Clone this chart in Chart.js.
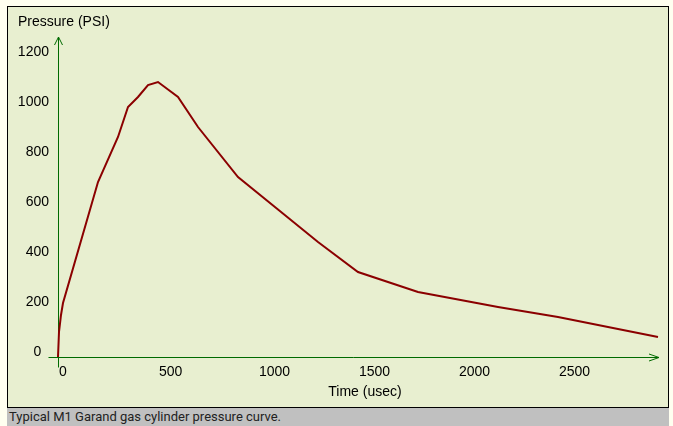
<!DOCTYPE html>
<html>
<head>
<meta charset="utf-8">
<script src="https://cdn.jsdelivr.net/npm/chart.js@4.4.0/dist/chart.umd.min.js"></script>
<style>
  html, body { margin: 0; padding: 0; background: #fffff0; width: 673px; height: 426px; overflow: hidden; }
  #frame { position: absolute; left: 7px; top: 6px; width: 660px; height: 400px; border: 1px solid #000; background: #e8efd0; }
  #caption { position: absolute; left: 7px; top: 408px; width: 660px; height: 18px; padding-left: 2px; background: #c0c0c0; font: 13px Roboto, sans-serif; color: #222; line-height: 18px; white-space: nowrap; }
  canvas { display: block; }
</style>
</head>
<body>
<div id="frame"><canvas id="chart" width="660" height="400"></canvas></div>
<div id="caption">Typical M1 Garand gas cylinder pressure curve.</div>
<script>
// time (usec) and gas pressure (PSI)
const timeUsec = [0, 5, 15, 25, 200, 300, 350, 400, 450, 500, 600, 700, 900, 1100, 1300, 1500, 1800, 2200, 2500, 3000];
const pressurePsi = [0, 100, 168, 216, 700, 880, 1000, 1040, 1088, 1100, 1040, 920, 720, 590, 460, 340, 260, 200, 160, 80];

const xTickValues = [0, 500, 1000, 1500, 2000, 2500];
const yTickValues = [0, 200, 400, 600, 800, 1000, 1200];

const xTitle = 'Time (usec)';
const yTitle = 'Pressure (PSI)';

const axisGreen = '#006a00';
const curveRed = '#8b0000';
const labelFont = { family: '"Liberation Sans", Arial, sans-serif', size: 14 };

// green axis lines with open arrow heads, plus the two axis titles
const arrowAxes = {
    id: 'arrowAxes',
    beforeDatasetsDraw(chart) {
        const ctx = chart.ctx;
        const xs = chart.scales.x;
        const ys = chart.scales.y;
        const x0 = Math.round(xs.getPixelForValue(0)) + 0.5;
        const y0 = Math.round(ys.getPixelForValue(0)) + 0.5;
        const yTop = ys.getPixelForValue(1200) - 20;
        const xEnd = xs.getPixelForValue(3000) + 1;
        ctx.save();
        ctx.strokeStyle = axisGreen;
        ctx.lineWidth = 1;
        ctx.beginPath();
        // y axis
        ctx.moveTo(x0, y0 + 10);
        ctx.lineTo(x0, yTop);
        ctx.moveTo(x0 - 4, yTop + 8);
        ctx.lineTo(x0, yTop);
        ctx.lineTo(x0 + 4, yTop + 8);
        // x axis
        ctx.moveTo(x0 - 10, y0);
        ctx.lineTo(xEnd, y0);
        ctx.moveTo(xEnd - 10, y0 - 3.5);
        ctx.lineTo(xEnd, y0);
        ctx.lineTo(xEnd - 10, y0 + 3.5);
        ctx.stroke();

        ctx.fillStyle = '#000';
        ctx.font = '14px "Liberation Sans", Arial, sans-serif';
        ctx.textBaseline = 'middle';
        ctx.textAlign = 'left';
        ctx.fillText(yTitle, 10, 15);
        ctx.textAlign = 'center';
        ctx.fillText(xTitle, 357, 385);
        ctx.restore();
    }
};

const chart = new Chart(document.getElementById('chart'), {
    type: 'line',
    data: {
        datasets: [{
            data: timeUsec.map((t, i) => ({ x: t, y: pressurePsi[i] })),
            borderColor: curveRed,
            borderWidth: 2,
            pointRadius: 0,
            tension: 0,
            fill: false,
            clip: false
        }]
    },
    options: {
        responsive: false,
        animation: false,
        events: [],
        layout: { padding: { left: 0, right: 10, top: 50, bottom: 0 } },
        plugins: { legend: { display: false }, tooltip: { enabled: false } },
        scales: {
            x: {
                type: 'linear',
                min: 0,
                max: 3000,
                afterBuildTicks: s => { s.ticks = xTickValues.map(v => ({ value: v })); },
                afterFit: s => { s.height = 50; },
                grid: { display: false, drawTicks: false },
                border: { display: false },
                ticks: {
                    align: 'start', labelOffset: 1, padding: 7, color: '#000', font: labelFont,
                    maxRotation: 0, autoSkip: false,
                    callback: v => String(v)
                }
            },
            y: {
                min: 0,
                max: 1200,
                afterBuildTicks: s => { s.ticks = yTickValues.map(v => ({ value: v })); },
                afterFit: s => { s.width = 50; },
                grid: { display: false, drawTicks: false },
                border: { display: false },
                ticks: {
                    labelOffset: -5, padding: 9, color: '#000', font: labelFont, autoSkip: false,
                    // the zero label sits a little further left in the original
                    callback: v => v === 0 ? '0  ' : String(v)
                }
            }
        }
    },
    plugins: [arrowAxes]
});
</script>
</body>
</html>
